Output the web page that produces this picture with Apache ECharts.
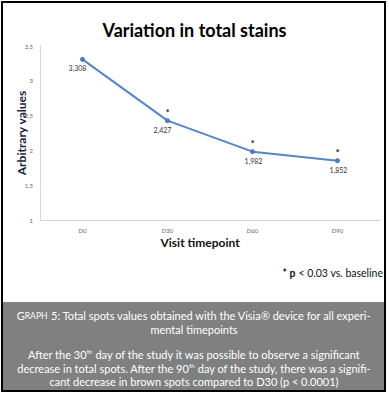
<!DOCTYPE html>
<html>
<head>
<meta charset="utf-8">
<script src="https://cdn.jsdelivr.net/npm/echarts@6/dist/echarts.min.js"></script>
<style>
html,body{margin:0;padding:0;background:#fff;}
#c{width:389px;height:396px;}
</style>
</head>
<body>
<div id="c"></div>
<script>
const categories = ['D0', 'D30', 'D60', 'D90'];
const values = [3.308, 2.427, 1.982, 1.852];
const significant = [false, true, true, true];
const yTicks = [1, 1.5, 2, 2.5, 3, 3.5];

const FONT = 'Lato';
const fmt = v => String(v).replace('.', ',');

const captionRich = {
  n: {fontFamily: FONT, fontSize: 11, fill: '#fff', lineHeight: 14, verticalAlign: 'bottom'},
  c: {fontFamily: FONT, fontSize: 8.5, fill: '#fff', lineHeight: 14, verticalAlign: 'bottom', padding: [0, 0, 1, 0]},
  sup: {fontFamily: FONT, fontSize: 6, fill: '#fff', lineHeight: 14, verticalAlign: 'bottom', padding: [0, 0, 6, 0]}
};

const lineData = values.map((v, i) => ({
  value: v,
  label: {offset: i < 2 ? [-5, 0] : [1, 0]}
}));

const chart = echarts.init(document.getElementById('c'), null, {renderer: 'svg'});
chart.setOption({
  animation: false,
  backgroundColor: '#fff',
  title: {
    text: 'Variation in total stains',
    left: 'center',
    top: 16,
    textStyle: {fontFamily: FONT, fontWeight: 'bold', fontSize: 18, color: '#000'}
  },
  grid: {left: 40, right: 9, top: 46, bottom: 176},
  xAxis: {
    type: 'category',
    data: categories,
    boundaryGap: true,
    axisLine: {lineStyle: {color: '#d0d0d0', width: 1}},
    axisTick: {show: false},
    axisLabel: {fontFamily: FONT, fontSize: 6, color: '#666', margin: 7},
    name: 'Visit timepoint',
    nameLocation: 'middle',
    nameGap: 16,
    nameMoveOverlap: false,
    nameTextStyle: {fontFamily: FONT, fontWeight: 'bold', fontSize: 12, color: '#111', padding: [0, 20, 0, 0]}
  },
  yAxis: {
    type: 'value',
    min: yTicks[0],
    max: yTicks[yTicks.length - 1],
    interval: 0.5,
    axisLine: {show: true, lineStyle: {color: '#d8d8d8', width: 1}},
    axisTick: {show: false},
    splitLine: {show: false},
    axisLabel: {fontFamily: FONT, fontSize: 6, color: '#666', margin: 7, formatter: v => fmt(v)},
    name: 'Arbitrary values',
    nameLocation: 'middle',
    nameGap: 13,
    nameMoveOverlap: false,
    nameTextStyle: {fontFamily: FONT, fontWeight: 'bold', fontSize: 12, color: '#1a1f3c'}
  },
  series: [
    {
      type: 'line',
      data: lineData,
      symbol: 'circle',
      symbolSize: 5,
      lineStyle: {color: '#5585c5', width: 2},
      itemStyle: {color: '#4a7cc0'},
      label: {
        show: true,
        position: 'bottom',
        distance: 3,
        fontFamily: FONT,
        fontSize: 7,
        color: '#333',
        formatter: p => fmt(p.value)
      },
      z: 3
    },
    {
      type: 'line',
      data: values,
      symbol: 'circle',
      symbolSize: 2,
      showSymbol: true,
      itemStyle: {color: 'rgba(0,0,0,0)'},
      lineStyle: {color: 'rgba(0,0,0,0)', width: 0},
      silent: true,
      label: {
        show: true,
        position: 'top',
        distance: 3,
        fontFamily: FONT,
        fontSize: 10,
        fontWeight: 'bold',
        color: '#222',
        formatter: p => (significant[p.dataIndex] ? '*' : '')
      },
      labelLayout: {hideOverlap: false},
      z: 2
    }
  ],
  graphic: [
    {type: 'rect', shape: {x: 2, y: 302, width: 383, height: 89}, style: {fill: '#808080'}, z: 1},
    {type: 'rect', shape: {x: 2, y: 2, width: 383, height: 389}, style: {fill: 'none', stroke: '#000', lineWidth: 2}, z: 2},
    {
      type: 'text', x: 383, y: 273, z: 3,
      style: {
        text: '{b|* p} < 0.03 vs. baseline',
        align: 'right', verticalAlign: 'middle',
        fontFamily: FONT, fontSize: 10.5, fill: '#111',
        rich: {b: {fontFamily: FONT, fontSize: 10.5, fontWeight: 'bold', fill: '#111'}}
      }
    },
    {
      type: 'text', x: 194, y: 314, z: 3,
      style: {
        text: '{n|G}{c|RAPH}{n| 5: Total spots values obtained with the Visia® device for all experi-}',
        align: 'center', verticalAlign: 'middle', fontFamily: FONT, fontSize: 11, fill: '#fff',
        rich: captionRich
      }
    },
    {
      type: 'text', x: 194, y: 329, z: 3,
      style: {text: 'mental timepoints', align: 'center', verticalAlign: 'middle', fontFamily: FONT, fontSize: 11, fill: '#fff'}
    },
    {
      type: 'text', x: 194, y: 353, z: 3,
      style: {
        text: '{n|After the 30}{sup|th}{n| day of the study it was possible to observe a significant}',
        align: 'center', verticalAlign: 'middle', fontFamily: FONT, fontSize: 11, fill: '#fff',
        rich: captionRich
      }
    },
    {
      type: 'text', x: 194, y: 367, z: 3,
      style: {
        text: '{n|decrease in total spots. After the 90}{sup|th}{n| day of the study, there was a signifi-}',
        align: 'center', verticalAlign: 'middle', fontFamily: FONT, fontSize: 11, fill: '#fff',
        rich: captionRich
      }
    },
    {
      type: 'text', x: 194, y: 381, z: 3,
      style: {text: 'cant decrease in brown spots compared to D30 (p < 0.0001)', align: 'center', verticalAlign: 'middle', fontFamily: FONT, fontSize: 11, fill: '#fff'}
    }
  ]
});
</script>
</body>
</html>
